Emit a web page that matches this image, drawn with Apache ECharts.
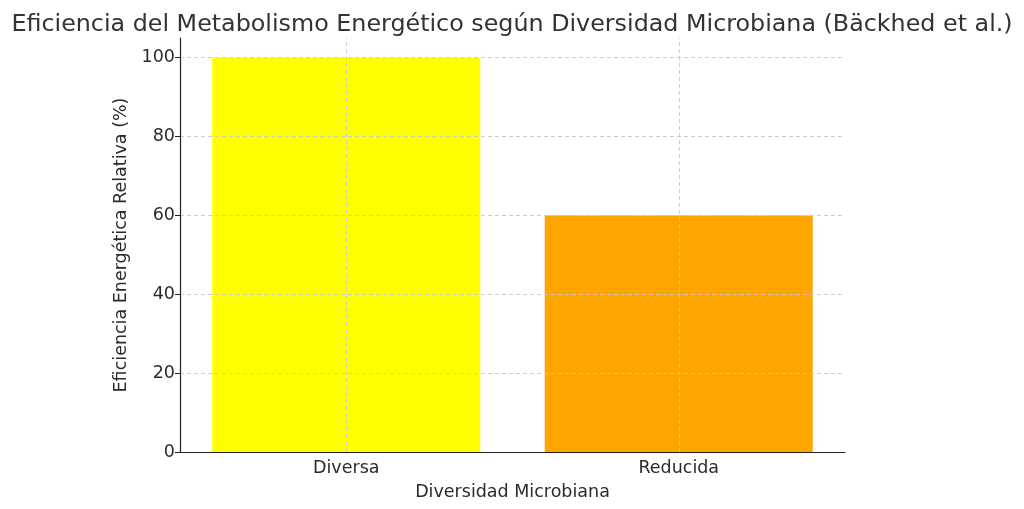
<!DOCTYPE html>
<html>
<head>
<meta charset="utf-8">
<script src="https://cdn.jsdelivr.net/npm/echarts@6/dist/echarts.min.js"></script>
<style>
  html, body { margin: 0; padding: 0; background: #fff; }
  #chart { width: 1024px; height: 509px; }
</style>
</head>
<body>
<div id="chart"></div>
<script>
const categories = ['Diversa', 'Reducida'];
const values = [100, 60];
const barColors = ['#FFFF00', '#FFA500'];
const yTicks = [0, 20, 40, 60, 80, 100];

const chart = echarts.init(document.getElementById('chart'));
const font = 'DejaVu Sans';
const textColor = '#2b2b2b';
const gridLine = { color: '#c8c8c8', type: [4, 3], width: 0.9 };

const option = {
  animation: false,
  textStyle: { fontFamily: font },
  title: {
    text: 'Eficiencia del Metabolismo Energético según Diversidad Microbiana (Bäckhed et al.)',
    left: 'center',
    top: 8,
    textStyle: { fontFamily: font, fontSize: 23.8, fontWeight: 'normal', color: '#333333' }
  },
  grid: { left: 180, right: 179, top: 38, bottom: 57 },
  xAxis: {
    type: 'category',
    data: categories,
    z: 5,
    name: 'Diversidad Microbiana',
    nameLocation: 'middle',
    nameGap: 31,
    nameTextStyle: { fontFamily: font, fontSize: 17.5, color: textColor },
    axisLine: { lineStyle: { color: '#222', width: 1.2 } },
    axisTick: { alignWithLabel: true, length: 5, lineStyle: { color: '#222' } },
    axisLabel: { fontFamily: font, fontSize: 17.5, color: textColor, margin: 7 },
    splitLine: { show: false }
  },
  yAxis: {
    type: 'value',
    min: 0,
    max: 105,
    interval: 20,
    z: 5,
    name: 'Eficiencia Energética Relativa (%)',
    nameLocation: 'middle',
    nameGap: 43,
    nameTextStyle: { fontFamily: font, fontSize: 17.5, color: textColor },
    axisLine: { show: true, lineStyle: { color: '#222', width: 1.2 } },
    axisTick: { show: true, length: 5, lineStyle: { color: '#222' } },
    axisLabel: {
      fontFamily: font, fontSize: 17.5, color: textColor, margin: 5,
      showMaxLabel: false,
      formatter: v => (yTicks.indexOf(v) >= 0 ? String(v) : '')
    },
    splitLine: { show: false }
  },
  series: [{
    type: 'bar',
    barWidth: 268,
    data: values.map((v, i) => ({ value: v, itemStyle: { color: barColors[i] } })),
    markLine: {
      silent: true,
      symbol: 'none',
      label: { show: false },
      lineStyle: gridLine,
      data: categories.map(c => ({ xAxis: c }))
        .concat(yTicks.slice(1).map(t => ({ yAxis: t })))
    }
  }]
};

chart.setOption(option);
</script>
</body>
</html>
